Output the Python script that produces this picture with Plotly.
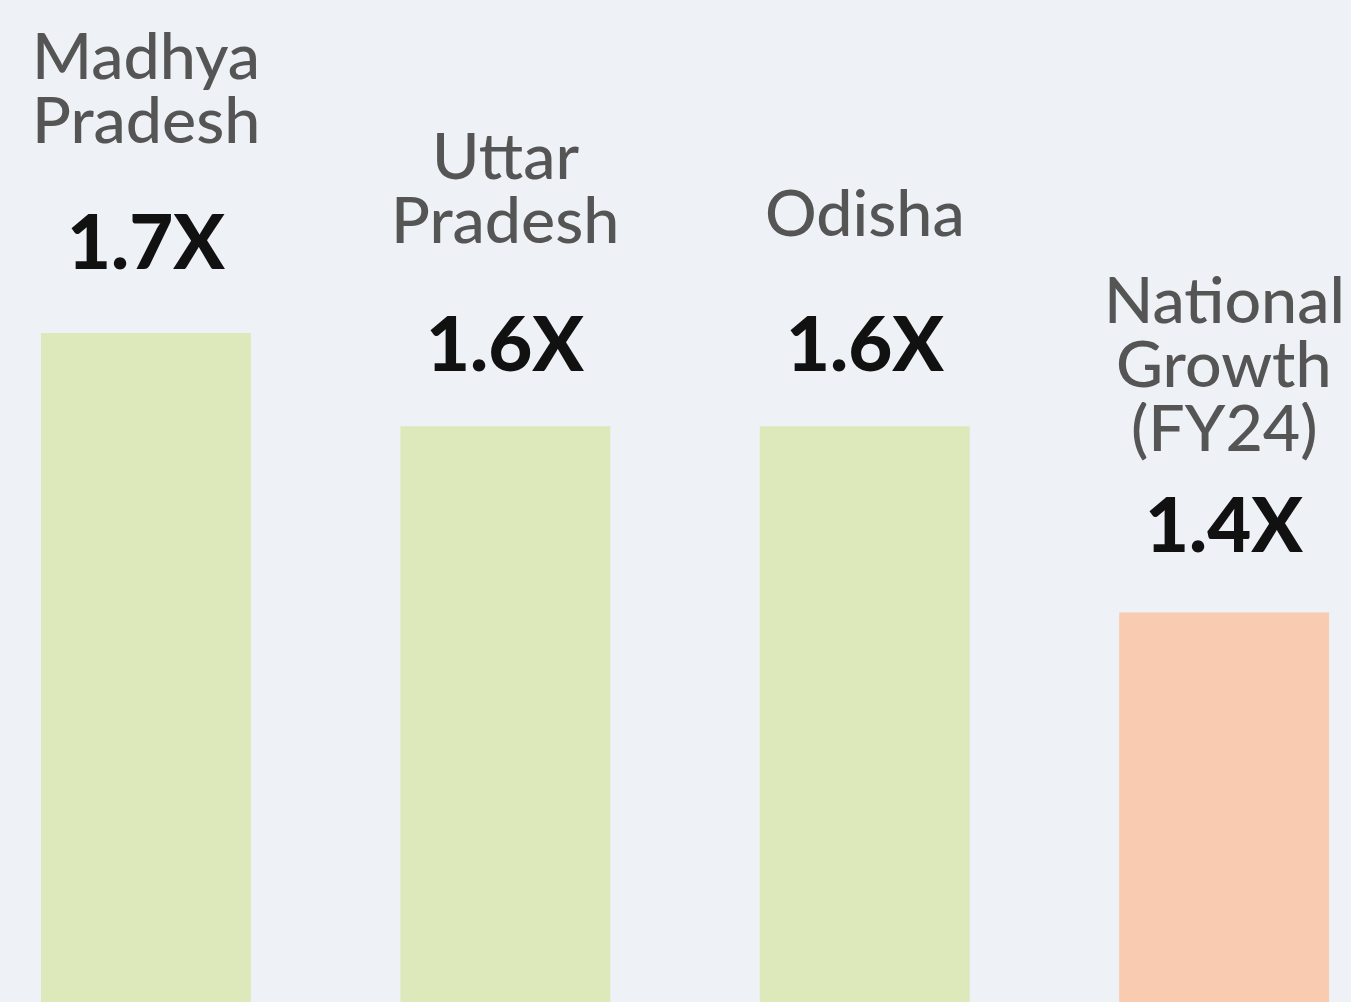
import plotly.graph_objects as go

# ---- data ----
categories = ["Madhya<br>Pradesh", "Uttar<br>Pradesh", "Odisha", "National<br>Growth<br>(FY24)"]
values = [1.7, 1.6, 1.6, 1.4]
value_labels = ["1.7X", "1.6X", "1.6X", "1.4X"]

# ---- style ----
bar_colors = ["#dde8bb", "#dde8bb", "#dde8bb", "#f9cbb1"]
name_offsets = [189, 182, 189, 160]   # px from bar top to baseline of last name line
value_offsets = [63, 54, 54, 60]      # px from bar top to value baseline
line_gap = 64
name_size = 64.5
value_size = 76

fig = go.Figure(go.Bar(
    x=list(range(len(categories))),
    y=values,
    marker=dict(color=bar_colors, line=dict(width=0)),
    width=0.584,
    hoverinfo="skip",
))

annotations = []
for i, (cat, v, lab) in enumerate(zip(categories, values, value_labels)):
    desc_v = 0.213 * value_size + 1
    annotations.append(dict(
        x=i, y=v, xref="x", yref="y", text=lab, showarrow=False,
        xanchor="center", yanchor="bottom", yshift=value_offsets[i] - desc_v,
        font=dict(family="Lato", size=value_size, color="#111111", weight=900),
    ))
    lines = cat.split("<br>")
    n = len(lines)
    desc_n = 0.213 * name_size
    for j, ln in enumerate(lines):
        off = name_offsets[i] + (n - 1 - j) * line_gap
        annotations.append(dict(
            x=i, y=v, xref="x", yref="y", text=ln, showarrow=False,
            xanchor="center", yanchor="bottom", yshift=off - desc_n,
            height=line_gap - 1, valign="bottom", borderpad=0,
            font=dict(family="Lato", size=name_size, color="#555555", weight=500),
        ))

fig.update_layout(
    width=1351, height=1002,
    margin=dict(l=0, r=0, t=0, b=0),
    paper_bgcolor="#eef1f5",
    plot_bgcolor="#eef1f5",
    showlegend=False,
    annotations=annotations,
    xaxis=dict(range=[-0.406, 3.353], visible=False, fixedrange=True),
    yaxis=dict(range=[0.982, 2.0575], visible=False, fixedrange=True),
)

fig.write_html("out.html", config={"displayModeBar": False})
